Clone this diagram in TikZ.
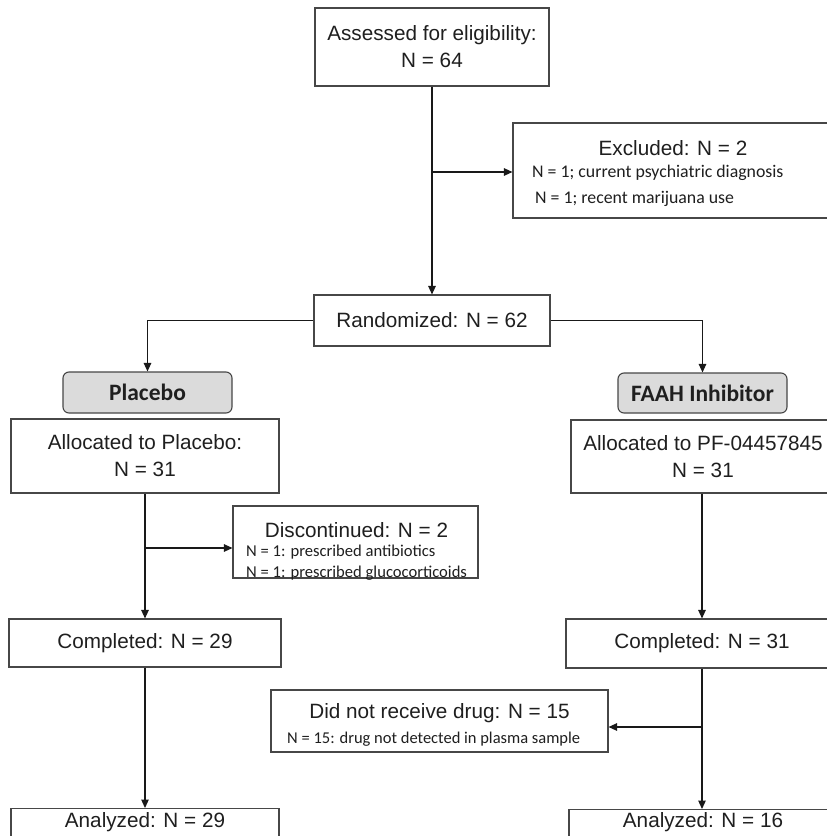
\documentclass[tikz,border=0pt]{standalone}
\usepackage{fontspec}
\setmainfont{Liberation Sans}
\newfontfamily\calfont{Carlito}
\usetikzlibrary{arrows.meta}
\begin{document}
\begin{tikzpicture}[x=1pt,y=-1pt,
 box/.style={draw=black!72, line width=1.1pt, inner sep=0pt, align=center, font=\fontsize{20.7}{27}\selectfont, text=black!88},
 tagbox/.style={box, fill=black!14, rounded corners=6pt, font=\calfont\bfseries\fontsize{23.5}{28}\selectfont},
 smalltxt/.style={inner sep=0pt, anchor=west, text=black!88},
 titletxt/.style={inner sep=0pt, font=\fontsize{20.7}{27}\selectfont, text=black!88},
 arr/.style={draw=black!90, line width=1.2pt, -{Triangle[length=8.5pt,width=7.5pt]}},
 ln/.style={draw=black!90, line width=1.2pt}]
\clip (0,0) rectangle (827,836);
\fill[white] (0,0) rectangle (827,836);

\node[box, minimum width=234pt, minimum height=78pt] (assess) at (432,47) {Assessed for eligibility:\\N = 64};
\node[box, minimum width=320pt, minimum height=95pt] (excl) at (673,170.5) {};
\node[titletxt] (exclt) at (673,148) {Excluded: N = 2};
\node[smalltxt, font=\calfont\fontsize{17.8}{20}\selectfont] (excl1) at (532,173) {N = 1; current psychiatric diagnosis};
\node[smalltxt, font=\calfont\fontsize{17.8}{20}\selectfont] (excl2) at (535,199) {N = 1; recent marijuana use};

\node[box, minimum width=236pt, minimum height=51pt] (rand) at (432,320.5) {Randomized: N = 62};

\node[tagbox, minimum width=169pt, minimum height=41pt] (plab) at (147.5,392.5) {Placebo};
\node[tagbox, minimum width=169pt, minimum height=40pt] (flab) at (702.5,393) {FAAH Inhibitor};

\node[box, minimum width=268pt, minimum height=74pt] (palloc) at (145,456) {Allocated to Placebo:\\N = 31};
\node[box, minimum width=264pt, minimum height=73pt] (falloc) at (703,456.5) {Allocated to PF-04457845\\N = 31};

\node[box, minimum width=245pt, minimum height=72pt] (disc) at (355.5,542) {};
\node[titletxt] (disct) at (356.5,530) {Discontinued: N = 2};
\node[smalltxt, font=\calfont\fontsize{16.6}{20}\selectfont] (disc1) at (246,552) {N = 1: prescribed antibiotics};
\node[smalltxt, font=\calfont\fontsize{16.6}{20}\selectfont] (disc2) at (246,573) {N = 1: prescribed glucocorticoids};

\node[box, minimum width=272pt, minimum height=48pt] (pcomp) at (145,643) {Completed: N = 29};
\node[box, minimum width=272pt, minimum height=49pt] (fcomp) at (702,643.5) {Completed: N = 31};

\node[box, minimum width=337pt, minimum height=62pt] (norec) at (439.5,721) {};
\node[titletxt] (norect) at (439.5,713) {Did not receive drug: N = 15};
\node[smalltxt, font=\calfont\fontsize{16.5}{20}\selectfont] (norec1) at (287,739) {N = 15: drug not detected in plasma sample};

\node[box, minimum width=268pt, minimum height=44pt, anchor=north] (pana) at (145,808) {};
\node[titletxt] (panat) at (145,822) {Analyzed: N = 29};
\node[box, minimum width=268pt, minimum height=44pt, anchor=north] (fana) at (703,809) {};
\node[titletxt] (fanat) at (703,822) {Analyzed: N = 16};

\coordinate (j1) at (432,172);
\coordinate (j2) at (145,548);
\coordinate (j3) at (702,727);

\draw[arr] (assess.south) -- (rand.north);
\draw[arr] (j1) -- (j1 -| excl.west);
\draw[arr] (rand.west) -| (plab.north);
\draw[arr] (rand.east) -| (flab.north);
\draw[arr] (palloc.south) -- (palloc.south |- pcomp.north);
\draw[arr] (j2) -- (j2 -| disc.west);
\draw[arr] (falloc.south -| fcomp.north) -- (fcomp.north);
\draw[arr] (pcomp.south) -- (pcomp.south |- pana.north);
\draw[arr] (fcomp.south) -- (fcomp.south |- fana.north);
\draw[arr] (j3) -- (j3 -| norec.east);
\end{tikzpicture}
\end{document}
